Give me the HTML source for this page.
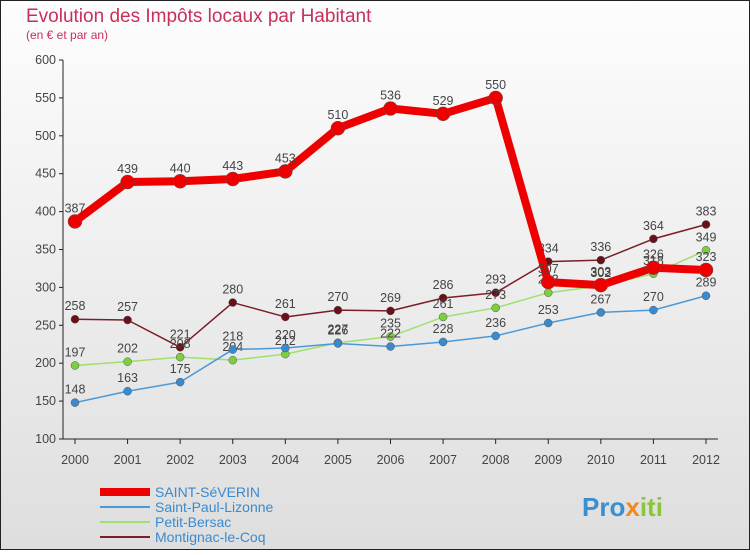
<!DOCTYPE html>
<html><head><meta charset="utf-8"><style>
body{margin:0}
#c{width:750px;height:550px;position:relative;font-family:"Liberation Sans",sans-serif;}
</style></head><body>
<div id="c">
<svg id="s" width="750" height="550" xmlns="http://www.w3.org/2000/svg">
<defs><linearGradient id="bg" x1="0" y1="0" x2="0" y2="1"><stop offset="0" stop-color="#fdfdfd"/><stop offset="1" stop-color="#dedede"/></linearGradient></defs>
<rect x="0.5" y="0.5" width="749" height="549" fill="url(#bg)" stroke="#222"/>
<text x="26" y="22" font-size="19" fill="#c8305a">Evolution des Impôts locaux par Habitant</text>
<text x="26" y="39" font-size="12" fill="#c8305a">(en € et par an)</text>
<g id="axes"></g><g id="series"></g><g id="legend"></g>
<text x="582" y="516" font-size="26" font-weight="bold" fill="#3a8fd0">Pro<tspan fill="#f08a20">x</tspan><tspan fill="#8cc43c">iti</tspan></text>
</svg></div>
<script>
const years=[2000,2001,2002,2003,2004,2005,2006,2007,2008,2009,2010,2011,2012];
const yTicks=[100,150,200,250,300,350,400,450,500,550,600];
const saintSeverin=[387,439,440,443,453,510,536,529,550,307,303,326,323];
const saintPaul=[148,163,175,218,220,226,222,228,236,253,267,270,289];
const petitBersac=[197,202,208,204,212,227,235,261,273,293,302,318,349];
const montignac=[258,257,221,280,261,270,269,286,293,334,336,364,383];
const NS="http://www.w3.org/2000/svg";
const xs=i=>75+i*(706-75)/12;
const ys=v=>439-(v-100)*(439-60)/500;
function mk(t,a,p){const e=document.createElementNS(NS,t);for(const k in a)e.setAttribute(k,a[k]);p.appendChild(e);return e;}
const ax=document.getElementById('axes');
const yl=mk('line',{x1:63,y1:60,x2:63,y2:439,stroke:'#222'},ax);

const xl=mk('line',{x1:63,y1:439,x2:718,y2:439,stroke:'#222'},ax);

yTicks.forEach(v=>{
 mk('line',{x1:59,y1:ys(v),x2:63,y2:ys(v),stroke:'#222'},ax);
 const t=mk('text',{x:56,y:ys(v)+4,'text-anchor':'end','font-size':12.5,fill:'#444'},ax);t.textContent=v;
 
});
years.forEach((y,i)=>{
 mk('line',{x1:xs(i),y1:439,x2:xs(i),y2:444,stroke:'#222'},ax);
 const t=mk('text',{x:xs(i),y:464,'text-anchor':'middle','font-size':12.5,fill:'#444'},ax);t.textContent=y;
 
});
const sg=document.getElementById('series');
const defs=[
 {d:montignac,c:'#7a1e28',w:1.5,r:4,name:'montignac-le-coq',f:'#6a1018'},
 {d:petitBersac,c:'#9fe070',w:1.5,r:4,name:'petit-bersac',f:'#7cd040'},
 {d:saintPaul,c:'#4a9ad8',w:1.5,r:4,name:'saint-paul-lizonne',f:'#3a8ad0'},
 {d:saintSeverin,c:'#ee0000',w:8,r:7,name:'saint-severin',f:'#ee0000'}];
defs.forEach(s=>{
 const g=mk('g',{},sg);
 const p=mk('polyline',{points:s.d.map((v,i)=>xs(i)+','+ys(v)).join(' '),fill:'none',stroke:s.c,'stroke-width':s.w,'stroke-linejoin':'round'},g);
 
 s.d.forEach((v,i)=>{
  const c=mk('circle',{cx:xs(i),cy:ys(v),r:s.r,fill:s.f,stroke:'#555','stroke-width':0.5},g);
  
  const t=mk('text',{x:xs(i),y:ys(v)-9,'text-anchor':'middle','font-size':12.5,fill:'#444'},g);t.textContent=v;
  
 });
});
const lg=document.getElementById('legend');
const leg=[['SAINT-SéVERIN','#ee0000',8],['Saint-Paul-Lizonne','#4a9ad8',2],['Petit-Bersac','#9fe070',2],['Montignac-le-Coq','#7a1e28',2]];
leg.forEach((l,i)=>{
 const y=492+i*15;
 const g=mk('g',{},lg);
 mk('line',{x1:100,y1:y,x2:150,y2:y,stroke:l[1],'stroke-width':l[2]},g);
 const t=mk('text',{x:155,y:y+5,'font-size':14,fill:'#3a8ad0'},g);t.textContent=l[0];
});
</script>
</body></html>
